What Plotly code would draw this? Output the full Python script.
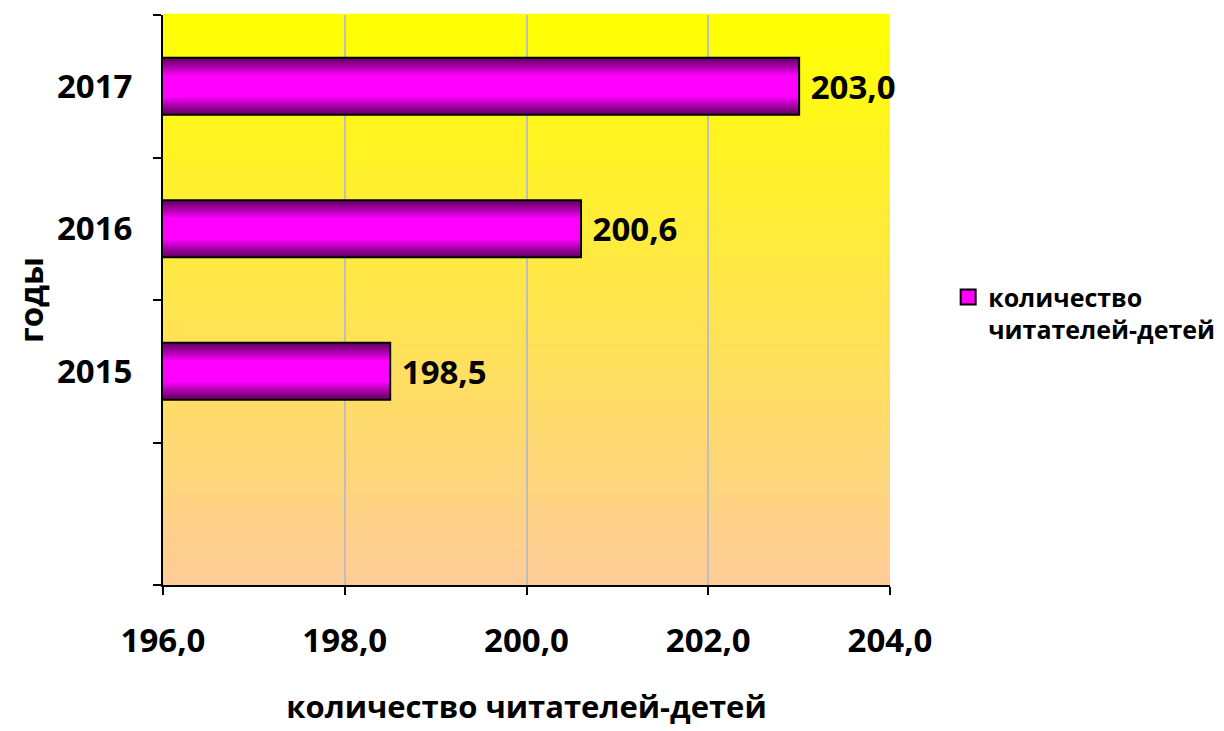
import plotly.graph_objects as go

# ---- data ----
years = ["2015", "2016", "2017"]
readers = [198.5, 200.6, 203.0]
series_name = "количество<br>читателей-детей"
x_title = "количество читателей-детей"
y_title = "годы"

# positions of categories (bottom slot left empty as in the original)
ypos = [i + 1 for i in range(len(years))]

FONT = "Open Sans, Noto Sans, DejaVu Sans, sans-serif"

def lerp(c1, c2, t):
    return "#%02x%02x%02x" % tuple(round(a + (b - a) * t) for a, b in zip(c1, c2))

fig = go.Figure()

# cylinder-like shading: stacked overlay bars of decreasing thickness
dark = (0x66, 0x00, 0x66)
bright = (0xFF, 0x00, 0xFF)
n_layers = 16
w_outer, w_inner = 0.40, 0.15
for k in range(n_layers):
    t = k / (n_layers - 1)
    w = w_outer - (w_outer - w_inner) * t
    fig.add_trace(go.Bar(
        x=readers, y=ypos, orientation="h", width=w,
        marker=dict(color=lerp(dark, bright, t ** 1.1), line=dict(width=0)),
        showlegend=False, hoverinfo="skip",
    ))

# outline + value labels
fig.add_trace(go.Bar(
    x=readers, y=ypos, orientation="h", width=w_outer,
    marker=dict(color="rgba(0,0,0,0)", line=dict(color="black", width=2)),
    texttemplate="\u00a0%{x:.1f}", textposition="outside",
    textfont=dict(family=FONT, size=33, color="black", weight="bold"),
    cliponaxis=False, showlegend=False,
))

# legend entry
fig.add_trace(go.Scatter(
    x=[None], y=[None], mode="markers", name=series_name,
    marker=dict(symbol="square", size=15, color="#FF00FF",
                line=dict(color="black", width=2)),
))

# gradient background of the plot area
N = 80
top_c = (0xFF, 0xFF, 0x00)
bot_c = (0xFF, 0xCC, 0x99)
shapes = []
for i in range(N):
    t = (i + 0.5) / N
    shapes.append(dict(
        type="rect", xref="x domain", yref="y domain",
        x0=0, x1=1, y0=i / N, y1=(i + 1) / N + 0.002,
        fillcolor=lerp(bot_c, top_c, t), line=dict(width=0), layer="below",
    ))

fig.update_layout(
    width=1224, height=731,
    margin=dict(l=155, r=342, t=7, b=154),
    paper_bgcolor="white", plot_bgcolor="white",
    barmode="overlay", separators=", ",
    shapes=shapes,
    font=dict(family=FONT, color="black"),
    legend=dict(x=1.08, y=0.545, xanchor="left", yanchor="top",
                font=dict(family=FONT, size=25, color="black", weight="bold"),
                valign="top", bgcolor="rgba(0,0,0,0)", itemwidth=30),
)

fig.update_xaxes(
    range=[196, 204], dtick=2, tick0=196, tickformat=".1f",
    showgrid=True, gridcolor="#BEBEBE", gridwidth=2,
    showline=True, linecolor="black", linewidth=2,
    ticks="outside", ticklen=8, tickwidth=2, tickcolor="black",
    tickfont=dict(family=FONT, size=33, color="black", weight="bold"),
    ticklabelstandoff=17, zeroline=False,
    title=dict(text=x_title, standoff=36,
               font=dict(family=FONT, size=31, color="black", weight="bold")),
)

fig.update_yaxes(
    range=[-0.5, 3.5], tickvals=ypos, ticktext=years, ticks="",
    showgrid=False, zeroline=False,
    showline=True, linecolor="black", linewidth=2,
    minor=dict(tick0=-0.5, dtick=1, ticks="outside", ticklen=8,
               tickwidth=2, tickcolor="black", showgrid=False),
    tickfont=dict(family=FONT, size=33, color="black", weight="bold"),
    ticklabelstandoff=22,
    title=dict(text=y_title, standoff=12,
               font=dict(family=FONT, size=33, color="black", weight="bold")),
)

fig.write_html("out.html")
